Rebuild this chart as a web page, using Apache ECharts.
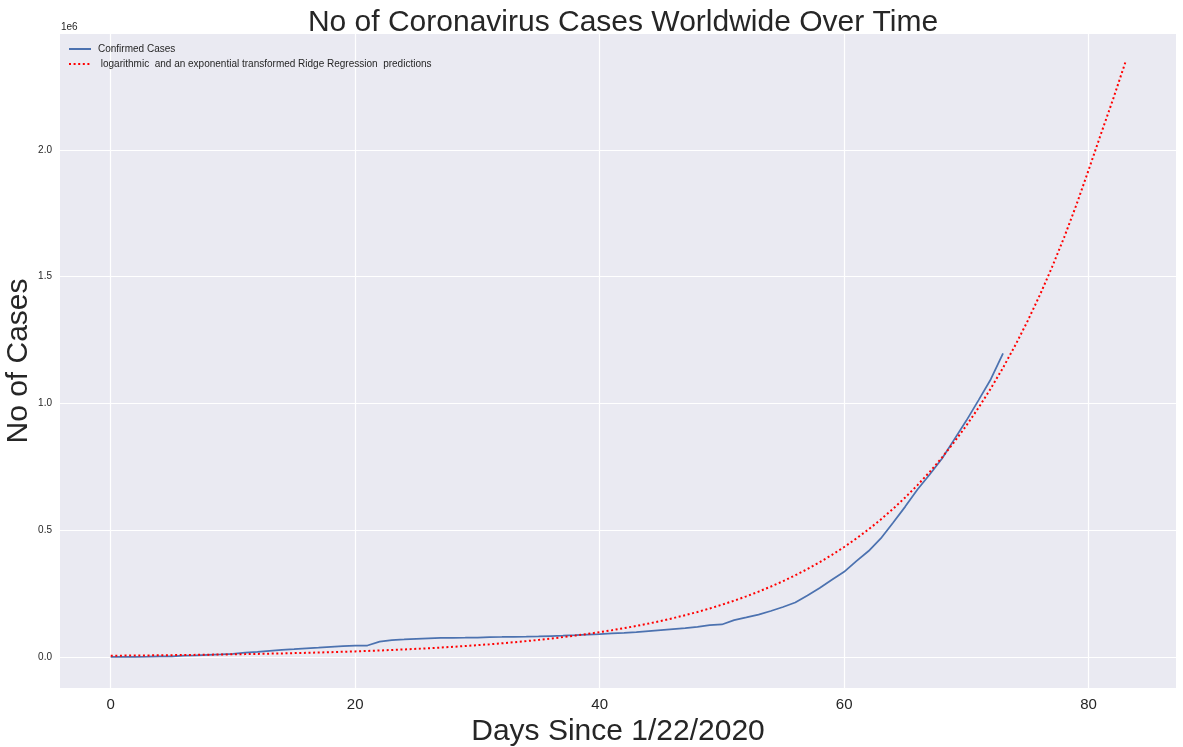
<!DOCTYPE html>
<html>
<head>
<meta charset="utf-8">
<script src="https://cdn.jsdelivr.net/npm/echarts@6/dist/echarts.min.js"></script>
<style>
html, body { margin: 0; padding: 0; background: #fff; }
#main { width: 1183px; height: 747px; }
</style>
</head>
<body>
<div id="main"></div>
<script>
// days since 1/22/2020
var confirmedCases = [
	555, 654, 941, 1434, 2118, 2927, 5578, 6166, 8234, 9927,
	12038, 16787, 19887, 23898, 27643, 30802, 34395, 37129, 40159, 42768,
	44810, 45228, 60381, 66908, 69052, 71235, 73270, 75152, 75660, 76199,
	76848, 78599, 78985, 79570, 80413, 81395, 82754, 84120, 86011, 88369,
	90306, 92840, 95120, 97882, 101784, 105821, 109795, 113561, 118592, 125865,
	128343, 145193, 156097, 167449, 181531, 197146, 214910, 242708, 272166, 304524,
	335955, 378235, 418045, 467653, 529591, 593291, 660706, 720117, 782365, 857487,
	932605, 1013466, 1095917, 1197405
];

var predictions = [
	5000, 5390, 5800, 6250, 6730, 7250, 7810, 8420, 9070, 9770,
	10520, 11330, 12210, 13150, 14170, 15260, 16440, 17710, 19080, 20550,
	22140, 23850, 25690, 27670, 29810, 32110, 34590, 37260, 40140, 43240,
	46580, 50170, 54050, 58220, 62720, 67560, 72780, 78400, 84450, 90980,
	98000, 105570, 113720, 122510, 131970, 142160, 153140, 164960, 177700, 191430,
	206210, 222140, 239290, 257770, 277680, 299120, 322220, 347100, 373910, 402790,
	433890, 467400, 503500, 542380, 584270, 629390, 678000, 730360, 786760, 847520,
	912970, 983480, 1059430, 1141250, 1229380, 1324320, 1426600, 1536770, 1655450, 1783300,
	1921020, 2062000, 2200000, 2345000
];

var xTicks = [0, 20, 40, 60, 80];
var yTicks = [0, 500000, 1000000, 1500000, 2000000];

var FONT = '"Liberation Sans", Arial, sans-serif';

function pairs(arr) {
	return arr.map(function(v, i) { return [i, v]; });
}

var myChart = echarts.init(document.getElementById('main'));

var option = {
	backgroundColor: '#ffffff',
	animation: false,
	title: {
		text: 'No of Coronavirus Cases Worldwide Over Time',
		left: 618,
		top: 3,
		textAlign: 'center',
		textStyle: { fontFamily: FONT, fontSize: 30, fontWeight: 'normal', color: '#262626' }
	},
	legend: {
		left: 63,
		top: 39,
		orient: 'vertical',
		itemWidth: 22,
		itemHeight: 8,
		itemGap: 5,
		itemStyle: { opacity: 0 },
		textStyle: { fontFamily: FONT, fontSize: 10, color: '#262626', padding: [0, 0, 0, 2] },
		data: ['Confirmed Cases', ' logarithmic  and an exponential transformed Ridge Regression  predictions']
	},
	grid: {
		left: 60,
		right: 7,
		top: 34,
		bottom: 59,
		outerBoundsMode: 'none',
		containLabel: false,
		show: true,
		backgroundColor: '#EAEAF2',
		borderWidth: 0
	},
	graphic: [
		{
			type: 'text',
			left: 61,
			top: 22,
			style: { text: '1e6', fontFamily: FONT, fontSize: 10, fill: '#262626' }
		},
		{
			type: 'text',
			x: 19,
			y: 361,
			rotation: Math.PI / 2,
			style: {
				text: 'No of Cases', fontFamily: FONT, fontSize: 30, fill: '#262626',
				align: 'center', verticalAlign: 'middle'
			}
		}
	],
	xAxis: {
		type: 'value',
		min: -4.15,
		max: 87.15,
		name: 'Days Since 1/22/2020',
		nameLocation: 'middle',
		nameGap: 18,
		nameTextStyle: { fontFamily: FONT, fontSize: 30, color: '#262626' },
		axisLine: { show: false },
		axisTick: { show: false, customValues: xTicks },
		axisLabel: {
			customValues: xTicks,
			fontFamily: FONT, fontSize: 15, color: '#262626', margin: 9
		},
		splitLine: { show: true, lineStyle: { color: '#ffffff', width: 1.2 } }
	},
	yAxis: {
		type: 'value',
		min: -122300,
		max: 2457600,
		axisLine: { show: false },
		axisTick: { show: false, customValues: yTicks },
		axisLabel: {
			customValues: yTicks,
			fontFamily: FONT, fontSize: 10, color: '#262626', margin: 8,
			formatter: function(v) { return (v / 1e6).toFixed(1); }
		},
		splitLine: { show: true, lineStyle: { color: '#ffffff', width: 1.2 } }
	},
	series: [
		{
			name: 'Confirmed Cases',
			type: 'line',
			data: pairs(confirmedCases),
			showSymbol: false,
			symbol: 'none',
			color: '#4C72B0',
			lineStyle: { color: '#4C72B0', width: 1.75 }
		},
		{
			name: ' logarithmic  and an exponential transformed Ridge Regression  predictions',
			type: 'line',
			data: pairs(predictions),
			showSymbol: false,
			symbol: 'none',
			color: '#ff0000',
			lineStyle: { color: '#ff0000', width: 2, type: [2, 2.6] }
		}
	]
};

myChart.setOption(option);
</script>
</body>
</html>
